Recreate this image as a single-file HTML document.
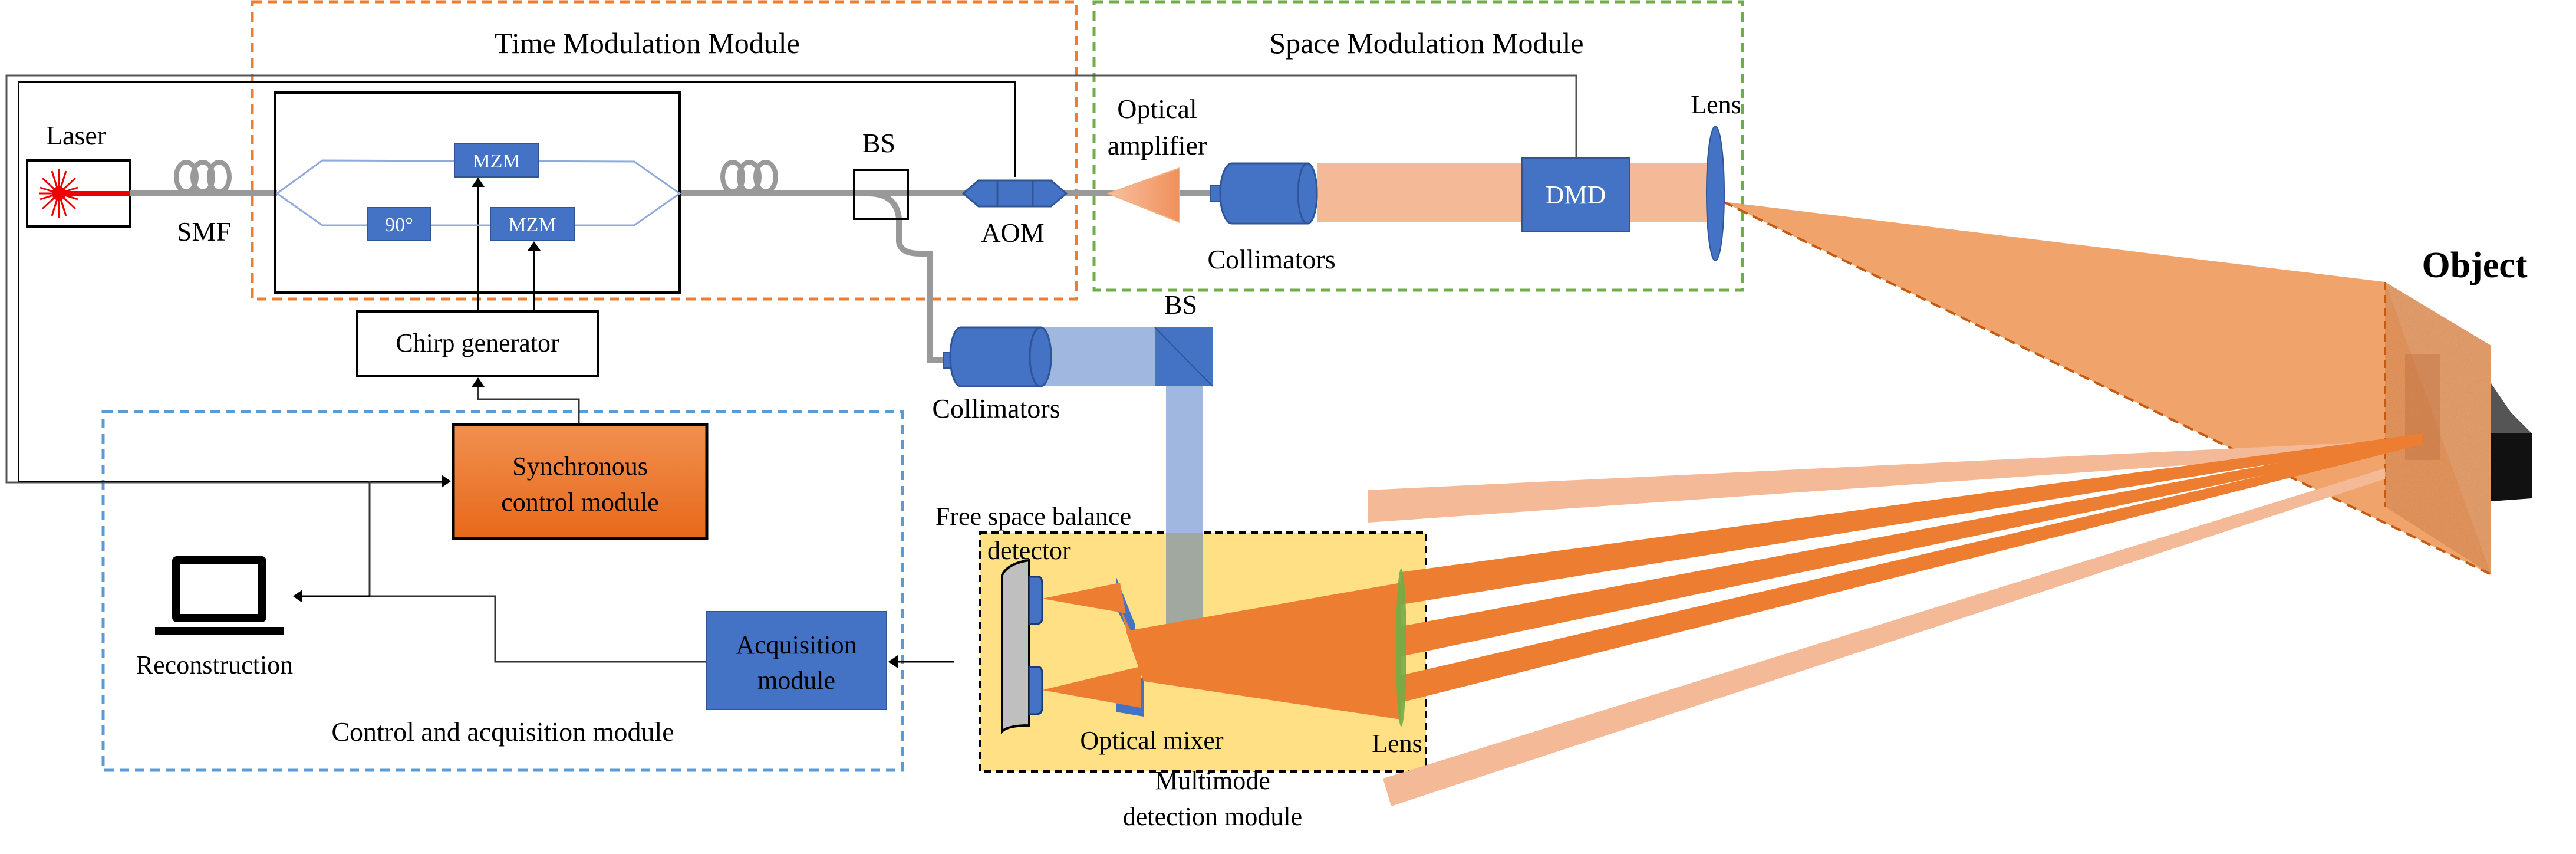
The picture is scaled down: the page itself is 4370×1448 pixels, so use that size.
<!DOCTYPE html>
<html><head><meta charset="utf-8"><style>
html,body{margin:0;padding:0;background:#fff;}
svg{display:block;font-family:"Liberation Serif","Times New Roman",serif;}
svg text{font-family:"Liberation Serif","Times New Roman",serif;fill:#000;}
</style></head><body>
<svg width="4370" height="1448" viewBox="0 0 4370 1448" xmlns="http://www.w3.org/2000/svg" font-family="Liberation Serif, Times New Roman, serif">
<defs>
<marker id="ahb" markerWidth="16" markerHeight="22" refX="15" refY="11" orient="auto" markerUnits="userSpaceOnUse">
<path d="M0,0 L16,11 L0,22 z" fill="#000"/></marker>
<linearGradient id="sync" x1="0" y1="0" x2="0" y2="1"><stop offset="0" stop-color="#f09050"/><stop offset="1" stop-color="#e8681a"/></linearGradient>
<linearGradient id="amp" x1="0" y1="0" x2="1" y2="0"><stop offset="0" stop-color="#f8c0a0"/><stop offset="1" stop-color="#f0905a"/></linearGradient>
<filter id="noise"><feTurbulence type="fractalNoise" baseFrequency="0.8" numOctaves="2" result="n"/><feColorMatrix in="n" type="matrix" values="0 0 0 0 0.75  0 0 0 0 0.42  0 0 0 0 0.2  0 0 0 0.5 0" result="c"/><feComposite in="c" in2="SourceGraphic" operator="in" result="t"/><feMerge><feMergeNode in="SourceGraphic"/><feMergeNode in="t"/></feMerge></filter>
</defs>

<rect x="428" y="3" width="1398" height="504" fill="none" stroke="#ed7d31" stroke-width="5" stroke-dasharray="16,10"/>
<rect x="1856" y="3" width="1100" height="489" fill="none" stroke="#70ad47" stroke-width="5" stroke-dasharray="16,10"/>
<rect x="175" y="698" width="1356" height="608" fill="none" stroke="#5b9bd5" stroke-width="5" stroke-dasharray="16,10"/>
<rect x="1662" y="903" width="757" height="405" fill="#ffe085" stroke="#000" stroke-width="4" stroke-dasharray="12,8"/>

<text x="1098" y="90" font-size="50" text-anchor="middle">Time Modulation Module</text>
<text x="2420" y="90" font-size="50" text-anchor="middle">Space Modulation Module</text>
<text x="853" y="1256" font-size="46" text-anchor="middle">Control and acquisition module</text>

<polyline points="2674,268 2674,128 11,128 11,818 760,818" fill="none" stroke="#555" stroke-width="3"/>
<polyline points="1722,300 1722,139 31,139 31,816 764,816" fill="none" stroke="#000" stroke-width="2" marker-end="url(#ahb)"/>
<polyline points="627,816 627,1011 840,1011 840,1122 1199,1122" fill="none" stroke="#333" stroke-width="3"/>
<line x1="627" y1="1011" x2="498" y2="1011" stroke="#000" stroke-width="3" marker-end="url(#ahb)"/>
<line x1="1619" y1="1122" x2="1508" y2="1122" stroke="#000" stroke-width="3" marker-end="url(#ahb)"/>
<polyline points="982,720 982,677 811,677 811,641" fill="none" stroke="#333" stroke-width="3" marker-end="url(#ahb)"/>
<line x1="811" y1="528" x2="811" y2="302" stroke="#000" stroke-width="2" marker-end="url(#ahb)"/>
<line x1="906" y1="528" x2="906" y2="410" stroke="#000" stroke-width="2" marker-end="url(#ahb)"/>

<rect x="46" y="272" width="174" height="112" fill="#fff" stroke="#000" stroke-width="4"/>
<line x1="110" y1="328" x2="220" y2="328" stroke="#e00" stroke-width="8"/>
<g stroke="#e00" stroke-width="3">
<line x1="88" y1="290" x2="112" y2="366"/><line x1="112" y1="290" x2="88" y2="366"/>
<line x1="72" y1="302" x2="128" y2="354"/><line x1="128" y1="302" x2="72" y2="354"/>
<line x1="68" y1="318" x2="132" y2="338"/><line x1="68" y1="338" x2="132" y2="318"/>
<line x1="100" y1="286" x2="100" y2="370"/><line x1="66" y1="328" x2="134" y2="328"/>
</g>
<circle cx="100" cy="328" r="12" fill="#e00"/>
<text x="129" y="245" font-size="46" text-anchor="middle">Laser</text>
<text x="346" y="408" font-size="46" text-anchor="middle">SMF</text>

<g stroke="#999" stroke-width="10" fill="none">
<line x1="220" y1="328" x2="470" y2="328"/>
<line x1="1153" y1="328" x2="1640" y2="328"/>
<line x1="1800" y1="328" x2="1890" y2="328"/>
<line x1="2000" y1="328" x2="2060" y2="328"/>
<path d="M1473,328 Q1520,328 1525,370 L1525,410 Q1528,430 1560,430 L1578,430 L1578,610 L1605,610"/>
</g>
<g stroke="#999" stroke-width="8" fill="none">
<ellipse cx="316" cy="300" rx="17" ry="25"/><ellipse cx="344" cy="300" rx="17" ry="25"/><ellipse cx="372" cy="300" rx="17" ry="25"/>
<ellipse cx="1243" cy="300" rx="17" ry="25"/><ellipse cx="1271" cy="300" rx="17" ry="25"/><ellipse cx="1299" cy="300" rx="17" ry="25"/>
</g>

<rect x="467" y="157" width="686" height="339" fill="none" stroke="#000" stroke-width="4"/>
<polygon points="470,328 547,272 1076,274 1153,328 1076,382 547,382" fill="none" stroke="#8faadc" stroke-width="3"/>
<rect x="771" y="244" width="143" height="56" fill="#4472c4" stroke="#2f5597" stroke-width="2"/>
<rect x="624" y="352" width="107" height="56" fill="#4472c4" stroke="#2f5597" stroke-width="2"/>
<rect x="832" y="352" width="143" height="56" fill="#4472c4" stroke="#2f5597" stroke-width="2"/>
<g font-size="34" text-anchor="middle">
<text x="842" y="284" style="fill:#fff">MZM</text><text x="677" y="392" style="fill:#fff">90°</text><text x="903" y="392" style="fill:#fff">MZM</text></g>

<rect x="606" y="528" width="408" height="109" fill="#fff" stroke="#000" stroke-width="4"/>
<text x="810" y="596" font-size="44" text-anchor="middle">Chirp generator</text>

<rect x="1449" y="288" width="91" height="83" fill="none" stroke="#000" stroke-width="4"/>
<text x="1491" y="258" font-size="46" text-anchor="middle">BS</text>
<polygon points="1634,328 1660,306 1783,306 1809,328 1783,350 1660,350" fill="#4472c4" stroke="#2f5597" stroke-width="3"/>
<line x1="1692" y1="306" x2="1692" y2="350" stroke="#2f5597" stroke-width="3"/><line x1="1752" y1="306" x2="1752" y2="350" stroke="#2f5597" stroke-width="3"/>
<text x="1718" y="410" font-size="46" text-anchor="middle">AOM</text>

<polygon points="1880,328 2001,285 2001,377" fill="url(#amp)" stroke="#f4b183" stroke-width="2"/>
<text x="1963" y="200" font-size="46" text-anchor="middle">Optical</text>
<text x="1963" y="262" font-size="46" text-anchor="middle">amplifier</text>

<rect x="2234" y="277" width="661" height="100" fill="#f4b996"/>
<rect x="2054" y="315" width="18" height="26" fill="#4472c4" stroke="#2f5597" stroke-width="2"/>
<path d="M2090,277 L2218,277 A16,51 0 0 1 2218,379 L2090,379 A20,51 0 0 1 2090,277 z" fill="#4472c4" stroke="#2f5597" stroke-width="3"/>
<ellipse cx="2218" cy="328" rx="16" ry="51" fill="#4472c4" stroke="#2f5597" stroke-width="3"/>
<rect x="2582" y="268" width="182" height="125" fill="#4472c4" stroke="#2f5597" stroke-width="2"/>
<text x="2673" y="345" font-size="44" text-anchor="middle" style="fill:#fff">DMD</text>
<text x="2157" y="455" font-size="46" text-anchor="middle">Collimators</text>
<text x="2911" y="192" font-size="44" text-anchor="middle">Lens</text>

<polygon points="4226,700 4260,700 4295,735 4295,845 4226,850" fill="#111"/>
<polygon points="4226,650 4260,700 4295,735 4226,735" fill="#555"/>
<polygon points="2923,342 4046,478 4226,974" fill="#ee9a5c" opacity="0.9"/>
<polygon points="4046,478 4226,586 4226,974 4046,859" fill="#d9834a" filter="url(#noise)" opacity="0.9"/>
<rect x="4080" y="600" width="60" height="180" fill="#b8683a" opacity="0.35"/>
<line x1="4046" y1="478" x2="4046" y2="859" stroke="#c55a11" stroke-width="4" stroke-dasharray="14,8"/>
<line x1="2923" y1="342" x2="4226" y2="974" stroke="#c55a11" stroke-width="4" stroke-dasharray="18,10"/>
<line x1="3341" y1="891" x2="4111" y2="739" stroke="#c55a11" stroke-width="4" stroke-dasharray="18,10"/>
<ellipse cx="2910" cy="328" rx="15" ry="114" fill="#4472c4" stroke="#2f5597" stroke-width="2"/>
<text x="4198" y="470" font-size="62" font-weight="bold" text-anchor="middle">Object</text>

<polygon points="2321,831 4046,748 4046,765 2321,886" fill="#f4b996"/>
<polygon points="2346,1320 4046,794 4046,812 2360,1367" fill="#f4b996"/>
<polygon points="2377,970 4111,735 4111,745 2377,1025" fill="#ed7d31"/>
<polygon points="2377,1062 4111,739 4111,749 2377,1113" fill="#ed7d31"/>
<polygon points="2377,1145 4111,743 4111,753 2377,1191" fill="#ed7d31"/>

<rect x="1753" y="554" width="206" height="101" fill="#a0b8e0"/>
<rect x="1978" y="655" width="63" height="248" fill="#a0b8e0"/>
<rect x="1978" y="903" width="63" height="155" fill="#a0a8a0"/>
<rect x="1600" y="598" width="16" height="26" fill="#4472c4" stroke="#2f5597" stroke-width="2"/>
<path d="M1630,555 L1765,555 A18,50 0 0 1 1765,655 L1630,655 A18,50 0 0 1 1630,555 z" fill="#4472c4" stroke="#2f5597" stroke-width="3"/>
<ellipse cx="1765" cy="605" rx="18" ry="50" fill="#4472c4" stroke="#2f5597" stroke-width="3"/>
<rect x="1959" y="555" width="98" height="100" fill="#4472c4"/>
<line x1="1959" y1="555" x2="2057" y2="655" stroke="#2f5597" stroke-width="2"/>
<text x="2003" y="532" font-size="46" text-anchor="middle">BS</text>
<text x="1690" y="708" font-size="46" text-anchor="middle">Collimators</text>

<rect x="769" y="720" width="430" height="193" fill="url(#sync)" stroke="#000" stroke-width="5"/>
<text x="984" y="805" font-size="44" text-anchor="middle">Synchronous</text>
<text x="984" y="866" font-size="44" text-anchor="middle">control module</text>

<rect x="292" y="943" width="160" height="112" rx="8" fill="#000"/>
<rect x="306" y="957" width="132" height="84" fill="#fff"/>
<path d="M263,1063 L482,1063 L482,1077 L263,1077 z" fill="#000"/>
<text x="364" y="1142" font-size="44" text-anchor="middle">Reconstruction</text>

<rect x="1199" y="1037" width="305" height="166" fill="#4472c4" stroke="#2f5597" stroke-width="2"/>
<text x="1351" y="1108" font-size="44" text-anchor="middle">Acquisition</text>
<text x="1351" y="1168" font-size="44" text-anchor="middle">module</text>

<path d="M1700,975 Q1710,955 1746,950 L1746,1230 Q1710,1230 1700,1240 z" fill="#bfbfbf" stroke="#000" stroke-width="4"/>
<path d="M1746,978 L1762,978 Q1768,978 1768,990 L1768,1048 Q1768,1058 1758,1058 L1746,1058 z" fill="#4472c4" stroke="#1f3a70" stroke-width="3"/>
<path d="M1746,1131 L1762,1131 Q1768,1131 1768,1143 L1768,1200 Q1768,1211 1758,1211 L1746,1211 z" fill="#4472c4" stroke="#1f3a70" stroke-width="3"/>
<polygon points="1893,977 1926,1060 1926,1095 1893,1030" fill="#4472c4"/>
<polygon points="1893,1150 1940,1150 1940,1215 1893,1207" fill="#4472c4"/>
<polygon points="1978,1058 2041,1058 2041,1068 1978,1068" fill="#4472c4"/>
<polygon points="1768,1015 1900,988 1910,1040" fill="#ed7d31"/>
<polygon points="1768,1170 1935,1130 1935,1200" fill="#ed7d31"/>
<polygon points="2377,988 1910,1070 1940,1155 2377,1220" fill="#ed7d31"/>
<polygon points="1900,1030 1930,1095 1940,1155 1920,1100" fill="#ed7d31"/>
<ellipse cx="2377" cy="1098" rx="9" ry="134" fill="#70ad47" opacity="0.9"/>
<text x="1753" y="890" font-size="44" text-anchor="middle">Free space balance</text>
<text x="1675" y="948" font-size="44">detector</text>
<text x="1954" y="1270" font-size="44" text-anchor="middle">Optical mixer</text>
<text x="2370" y="1275" font-size="44" text-anchor="middle">Lens</text>
<text x="2057" y="1338" font-size="44" text-anchor="middle">Multimode</text>
<text x="2057" y="1399" font-size="44" text-anchor="middle">detection module</text>
</svg>
</body></html>
